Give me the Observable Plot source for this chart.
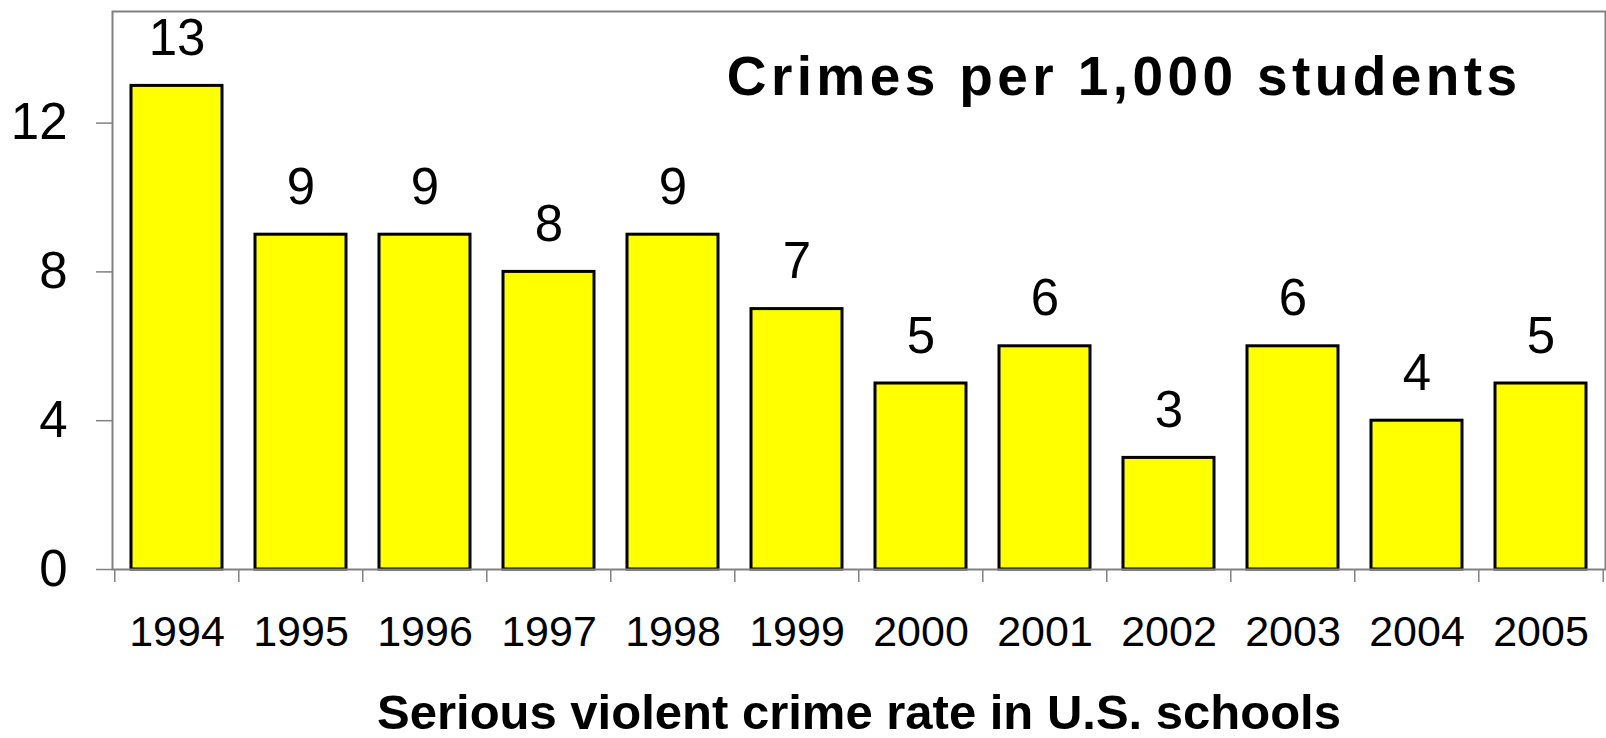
<!DOCTYPE html>
<html>
<head>
<meta charset="utf-8">
<script src="https://cdn.jsdelivr.net/npm/d3@7"></script>
<script src="https://cdn.jsdelivr.net/npm/@observablehq/plot@0.6"></script>
<style>
  html, body { margin: 0; padding: 0; background: #fff; }
</style>
</head>
<body>
<div id="chart"></div>
<script>
const years = ["1994","1995","1996","1997","1998","1999","2000","2001","2002","2003","2004","2005"];
const rates = [13, 9, 9, 8, 9, 7, 5, 6, 3, 6, 4, 5];
const yTicks = [0, 4, 8, 12];
const chartTitle = "Crimes per 1,000 students";
const xTitle = "Serious violent crime rate in U.S. schools";

const data = years.map((year, i) => ({year, rate: rates[i]}));

const W = 1606, H = 738;
const mL = 112, mR = 1, mT = 11, mB = 169;
const step = (W - mL - mR) / years.length;
const plotH = H - mT - mB;
const gray = "#808080";
const font = "'Liberation Sans', Arial, Helvetica, sans-serif";

const chart = Plot.plot({
  width: W,
  height: H,
  marginLeft: mL,
  marginRight: mR,
  marginTop: mT,
  marginBottom: mB,
  style: {fontFamily: font, fontSize: "43px", color: "black", background: "white"},
  x: {domain: years, paddingInner: 0.27, paddingOuter: 0.135, label: null},
  y: {domain: [0, 15], label: null},
  marks: [
    Plot.barY(data, {x: "year", y: "rate", fill: "#FFFF00", stroke: "black", strokeWidth: 3}),
    Plot.frame({stroke: gray, strokeWidth: 2}),
    Plot.axisY({ticks: yTicks, tickSize: 16, tickPadding: 29, fontSize: 51, stroke: gray, fill: "black", strokeWidth: 1.5, label: null}),
    Plot.axisX({tickSize: 0, tickPadding: 46, fontSize: 43, fill: "black", label: null}),
    Plot.ruleX(years, {x: d => d, dx: -step / 2, insetTop: plotH, insetBottom: -13, stroke: gray, strokeWidth: 1.5}),
    Plot.ruleX(years.slice(-1), {x: d => d, dx: step / 2, insetTop: plotH, insetBottom: -13, stroke: gray, strokeWidth: 1.5}),
    Plot.text(data, {x: "year", y: "rate", text: d => String(d.rate), lineAnchor: "bottom", dy: -31, fontSize: 51, fill: "black"}),
    Plot.text([chartTitle], {text: d => d, frameAnchor: "top-right", textAnchor: "end", lineAnchor: "bottom", dx: -84, dy: 83, fontSize: 55, fontWeight: "bold", fill: "black"}),
    Plot.text([xTitle], {text: d => d, frameAnchor: "bottom", lineAnchor: "bottom", dy: 159, fontSize: 49, fontWeight: "bold", fill: "black"})
  ]
});
d3.select(chart).selectAll("text")
  .filter(function () { return this.textContent === chartTitle; })
  .style("letter-spacing", "4.4px");
document.getElementById("chart").appendChild(chart);
</script>
</body>
</html>
